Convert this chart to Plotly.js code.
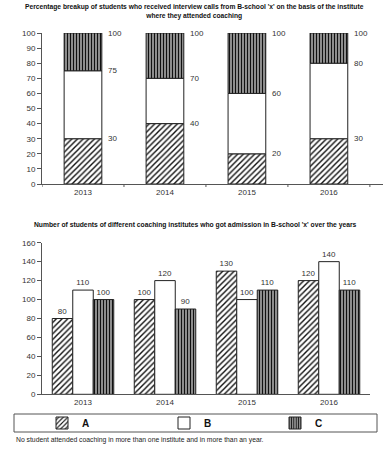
<!DOCTYPE html>
<html><head><meta charset="utf-8">
<script src="https://cdn.plot.ly/plotly-3.0.1.min.js"></script>
<style>body{margin:0;background:#fff}#c{width:388px;height:450px}</style>
</head><body><div id="c"></div>
<script>
// ---- data ----
const years = ['2013', '2014', '2015', '2016'];
// Percentage breakup (segments) of interview calls
const pctA = [30, 40, 20, 30];
const pctB = [45, 30, 40, 50];
const pctC = [25, 30, 40, 20];
// Number of students who got admission
const admA = [80, 100, 130, 120];
const admB = [110, 120, 100, 140];
const admC = [100, 90, 110, 110];
const seriesNames = ['A', 'B', 'C'];
const topTitle = "Percentage breakup of students who received interview calls from B-school 'x' on the basis of the institute<br>where they attended coaching";
const bottomTitle = "Number of students of different coaching institutes who got admission in B-school 'x' over the years";
const footnote = "No student attended coaching in more than one institute and in more than an year.";

// ---- styles ----
const W = 388, H = 450;
const px = v => v / W;
const py = v => 1 - v / H;
const FONT = 'Liberation Sans, Arial, sans-serif';
const lineStyle = {color: '#222', width: 1};
const pats = {
  A: {shape: '/', fgcolor: '#111', bgcolor: '#fff', size: 4, solidity: 0.35},
  B: {shape: '', fgcolor: '#fff', bgcolor: '#fff'},
  C: {shape: '|', fgcolor: '#111', bgcolor: '#9a9a9a', size: 3, solidity: 0.4}
};
const legendIds = {A: 'legend', B: 'legend2', C: 'legend3'};
const legendX = {A: 42, B: 164, C: 275};

const idx = years.map((_, i) => i);
const cum1 = pctA.slice();
const cum2 = pctA.map((v, i) => v + pctB[i]);
const cum3 = cum2.map((v, i) => v + pctC[i]);

const traces = [];
// top stacked (via base)
[[pctA, null, 'A'], [pctB, cum1, 'B'], [pctC, cum2, 'C']].forEach(([vals, base, n]) => {
  traces.push({
    type: 'bar', x: idx, y: vals, base: base || idx.map(() => 0),
    xaxis: 'x', yaxis: 'y', offsetgroup: 'top', width: 0.46,
    marker: {color: '#fff', pattern: pats[n], line: lineStyle},
    showlegend: false, hoverinfo: 'skip'
  });
});
// bottom grouped
[[admA, 'A'], [admB, 'B'], [admC, 'C']].forEach(([vals, n]) => {
  traces.push({
    type: 'bar', x: years, y: vals, name: n, legend: legendIds[n],
    xaxis: 'x2', yaxis: 'y2',
    marker: {color: '#fff', pattern: pats[n], line: lineStyle},
    text: vals.map(String), textposition: 'outside', cliponaxis: false,
    textfont: {family: FONT, size: 8, color: '#333'},
    showlegend: true, hoverinfo: 'skip'
  });
});

const annotations = [];
idx.forEach(i => {
  [cum1[i], cum2[i], cum3[i]].forEach(v => {
    annotations.push({
      x: i + 0.23, y: v, xref: 'x', yref: 'y', xanchor: 'left', yanchor: 'middle',
      xshift: 4, text: String(v), showarrow: false,
      font: {family: FONT, size: 8, color: '#333'}
    });
  });
});
annotations.push({
  x: px(194), y: py(11), xref: 'paper', yref: 'paper', xanchor: 'center', yanchor: 'middle',
  text: '<b>' + topTitle + '</b>', showarrow: false,
  font: {family: FONT, size: 6.7, color: '#111'}
});
annotations.push({
  x: px(195), y: py(225), xref: 'paper', yref: 'paper', xanchor: 'center', yanchor: 'middle',
  text: '<b>' + bottomTitle + '</b>', showarrow: false,
  font: {family: FONT, size: 6.75, color: '#111'}
});
annotations.push({
  x: px(14), y: py(440), xref: 'paper', yref: 'paper', xanchor: 'left', yanchor: 'middle',
  text: footnote, showarrow: false,
  font: {family: FONT, size: 6.8, color: '#222'}
});

const yCommon = {
  showgrid: false, zeroline: false, showline: true, linecolor: '#555', linewidth: 1,
  ticks: 'outside', ticklen: 4, tickcolor: '#555',
  tickfont: {family: FONT, size: 8, color: '#333'}, fixedrange: true
};
const legendBase = n => ({
  orientation: 'h', x: px(legendX[n]), y: py(423), xanchor: 'left', yanchor: 'middle',
  itemwidth: 30,
  font: {family: FONT, size: 10, color: '#111', weight: 'bold'},
  bgcolor: 'rgba(0,0,0,0)', borderwidth: 0, itemclick: false, itemdoubleclick: false
});
const layout = {
  width: W, height: H,
  margin: {l: 0, r: 0, t: 0, b: 0},
  paper_bgcolor: '#fff', plot_bgcolor: '#fff',
  barmode: 'group', bargap: 0.25, bargroupgap: 0,
  font: {family: FONT},
  xaxis: {
    domain: [px(42), px(383)], range: [-0.5, 3.66], anchor: 'y',
    tickvals: idx, ticktext: years, showgrid: false, zeroline: false,
    showline: true, linecolor: '#555', ticks: '',
    tickfont: {family: FONT, size: 8, color: '#333'}, fixedrange: true
  },
  yaxis: Object.assign({}, yCommon, {
    domain: [py(184), py(33)], range: [0, 100], dtick: 10, anchor: 'x'
  }),
  xaxis2: {
    domain: [px(42), px(370)], range: [-0.5, 3.5], anchor: 'y2', type: 'category',
    showgrid: false, zeroline: false, showline: true, linecolor: '#555', ticks: '',
    tickfont: {family: FONT, size: 8, color: '#333'}, fixedrange: true
  },
  yaxis2: Object.assign({}, yCommon, {
    domain: [py(394.3), py(242.7)], range: [0, 160], dtick: 20, anchor: 'x2'
  }),
  shapes: [
    // top x-axis boundary ticks
    ...[0, 1, 2, 3, 4].map(k => ({
      type: 'line', xref: 'x', yref: 'paper', x0: k - 0.5, x1: k - 0.5,
      y0: py(184), y1: py(187), line: {color: '#555', width: 1}
    })),
    {type: 'rect', xref: 'paper', yref: 'paper', x0: px(14), x1: px(377),
     y0: py(432), y1: py(414), line: {color: '#555', width: 1}, fillcolor: 'rgba(0,0,0,0)'}
  ],
  legend: legendBase('A'),
  legend2: legendBase('B'),
  legend3: legendBase('C'),
  annotations: annotations
};
Plotly.newPlot('c', traces, layout, {staticPlot: true, displayModeBar: false});
</script>
</body></html>
